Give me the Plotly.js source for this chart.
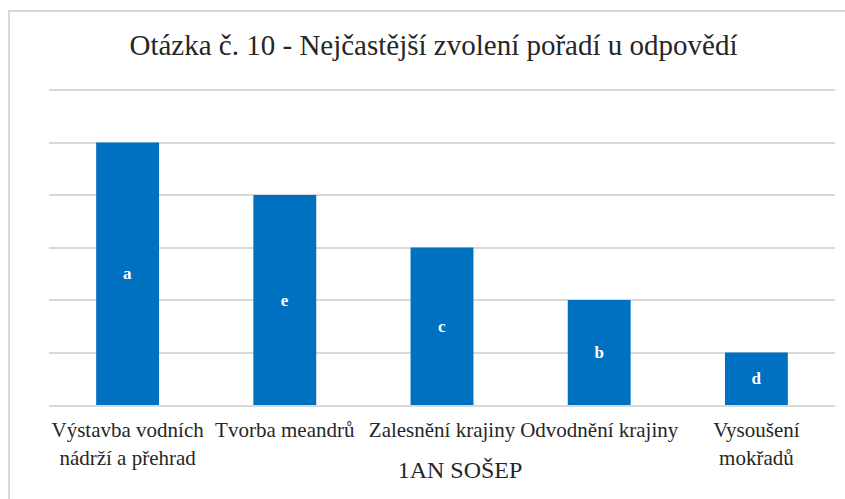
<!DOCTYPE html>
<html><head><meta charset="utf-8">
<script src="https://cdn.plot.ly/plotly-3.0.1.min.js"></script>
<style>
body{margin:0;padding:0;background:#fff;overflow:hidden}
#chart{position:absolute;left:0;top:0;width:845px;height:499px}
#frame{position:absolute;left:8px;top:10px;width:900px;height:600px;border:2px solid #d9d9d9;pointer-events:none;box-sizing:border-box}
#xtitle{position:absolute;left:0;top:456px;width:920px;text-align:center;font-family:'Liberation Serif',serif;font-size:24px;line-height:28px;color:#262626;pointer-events:none}
</style></head>
<body>
<div id="chart"></div>
<div id="frame"></div>
<div id="xtitle"></div>
<script>
const categories = ["Výstavba vodních<br>nádrží a přehrad", "Tvorba meandrů", "Zalesnění krajiny", "Odvodnění krajiny", "Vysoušení<br>mokřadů"];
const values = [5, 4, 3, 2, 1];
const barLabels = ["a", "e", "c", "b", "d"];
const gridValues = [1, 2, 3, 4, 5, 6];
const chartTitle = 'Otázka č. 10 - Nejčastější zvolení pořadí u odpovědí';
const axisTitle = '1AN SOŠEP';

const SERIF = 'Liberation Serif';

document.getElementById('xtitle').textContent = axisTitle;

const trace = {
  type: 'bar',
  x: categories,
  y: values,
  text: barLabels,
  textposition: 'inside',
  insidetextanchor: 'middle',
  textangle: 0,
  textfont: {family: SERIF, size: 17, color: '#ffffff', weight: 'bold'},
  marker: {color: '#0070C0'},
  hoverinfo: 'none'
};

const layout = {
  width: 845, height: 499,
  margin: {l: 49, r: 10, t: 89, b: 94},
  paper_bgcolor: 'rgba(0,0,0,0)',
  plot_bgcolor: 'rgba(0,0,0,0)',
  bargap: 0.6,
  showlegend: false,
  font: {family: SERIF, color: '#262626'},
  title: {text: chartTitle,
          font: {family: SERIF, size: 29},
          x: 0.513, xanchor: 'center', y: 0.91, yanchor: 'middle'},
  xaxis: {
    tickfont: {family: SERIF, size: 21},
    tickangle: 0,
    ticklabelstandoff: 5,
    showline: true, linecolor: '#d9d9d9', linewidth: 2,
    ticks: '', showgrid: false,
    automargin: false
  },
  yaxis: {
    range: [0, 6.02], tickvals: gridValues,
    showticklabels: false,
    showgrid: true, gridcolor: '#d9d9d9', gridwidth: 2,
    zeroline: false, showline: false, ticks: ''
  }
};

Plotly.newPlot('chart', [trace], layout, {staticPlot: true}).then(() => {
  document.body.setAttribute('data-done', '1');
});
</script>
</body></html>
